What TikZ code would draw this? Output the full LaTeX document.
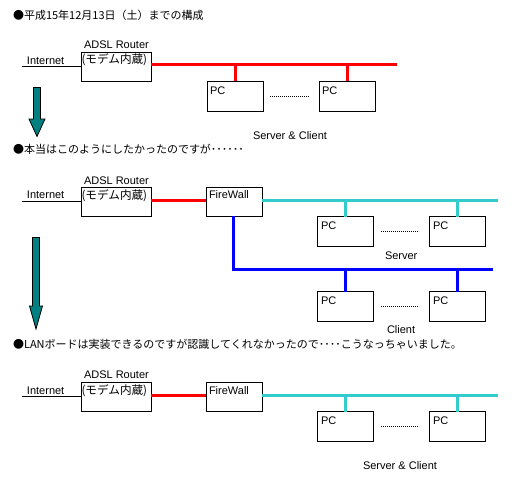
\documentclass[tikz,border=0pt]{standalone}
\usepackage{fontspec}
\setmainfont{Liberation Sans}
\newfontfamily\jp{Noto Sans CJK JP}
\definecolor{netred}{RGB}{255,0,0}
\definecolor{netcyan}{RGB}{51,204,204}
\definecolor{netblue}{RGB}{0,0,255}
\definecolor{arrteal}{RGB}{0,128,128}
\begin{document}
\begin{tikzpicture}[x=1pt,y=-1pt,
  txt/.style={inner sep=0,outer sep=0,anchor=base west,font=\fontsize{11}{13}\selectfont},
  jtxt/.style={inner sep=0,outer sep=0,anchor=west,font=\fontsize{11}{13}\selectfont\jp},
  modem/.style={inner sep=0,outer sep=0,anchor=west,font=\fontsize{11.6}{14}\selectfont\jp},
  devbox/.style={draw,line width=1pt,minimum width=70pt,minimum height=29pt,inner sep=0,outer sep=0},
  pcbox/.style={draw,line width=1pt,minimum width=56pt,minimum height=30pt,inner sep=0,outer sep=0},
  thin/.style={line width=1pt},
  redbus/.style={line width=3pt,draw=netred},
  cyanbus/.style={line width=3pt,draw=netcyan},
  bluebus/.style={line width=3pt,draw=netblue},
  dotline/.style={line width=0.8pt,dash pattern=on 0.8pt off 1.2pt},
  bigarrow/.style={fill=arrteal,draw=black,line width=0.8pt,line join=miter}]
\useasboundingbox (0,0) rectangle (525,479);
\fill[white] (0,0) rectangle (525,479);

% ---------- Section 1 ----------
\node[jtxt] (t1) at (13,15) {●平成15年12月13日（土）までの構成};
\node[devbox] (r1) at (116,66.5) {};
\node[txt] (r1lab) at (84,48.5) {ADSL Router};
\node[modem] (r1in) at (81.5,60) {(モデム内蔵)};
\node[txt] (i1) at (27,64) {Internet};
\coordinate (i1s) at (22,66);
\draw[thin] (i1s) -- (i1s -| r1.west);
\coordinate (b1e) at (397,64);
\draw[redbus] (b1e -| r1.east) -- (b1e);
\node[pcbox] (p1a) at (235,96) {};
\node[pcbox] (p1b) at (347.5,96) {};
\node[txt] (p1at) at (210,94) {PC};
\node[txt] (p1bt) at (322,94) {PC};
\draw[redbus] (p1a.north) -- (p1a.north |- b1e);
\draw[redbus] (p1b.north) -- (p1b.north |- b1e);
\coordinate (d1s) at (270,96);
\coordinate (d1e) at (309,96);
\draw[dotline] (d1s) -- (d1e);
\node[txt] (sc1) at (253,139) {Server \& Client};

% arrow 1
\draw[bigarrow] (33.5,87.5) coordinate (a1) -- (40.5,87.5) -- (40.5,119) -- (45,119) -- (37,136.5) -- (29,119) -- (33.5,119) -- cycle;

% ---------- Section 2 ----------
\node[jtxt] (t2) at (13,149) {●本当はこのようにしたかったのですが･･････};
\node[devbox] (r2) at (116,201.5) {};
\node[txt] (r2lab) at (84,184) {ADSL Router};
\node[modem] (r2in) at (81.5,196) {(モデム内蔵)};
\node[txt] (i2) at (27,198.5) {Internet};
\coordinate (i2s) at (22,201);
\draw[thin] (i2s) -- (i2s -| r2.west);
\node[devbox,minimum width=56pt] (f2) at (234,201.5) {};
\node[txt] (f2t) at (209,198.5) {FireWall};
\coordinate (b2) at (0,200.5);
\draw[redbus] (b2 -| r2.east) -- (b2 -| f2.west);
\coordinate (c2e) at (498,200.5);
\draw[cyanbus] (c2e -| f2.east) -- (c2e);
\node[pcbox] (s2a) at (345.5,231.5) {};
\node[pcbox] (s2b) at (457,231.5) {};
\node[txt] (s2at) at (321,229) {PC};
\node[txt] (s2bt) at (433,229) {PC};
\draw[cyanbus] (s2a.north) -- (s2a.north |- c2e);
\draw[cyanbus] (s2b.north) -- (s2b.north |- c2e);
\draw[dotline] (381,231) coordinate (d2s) -- (419,231) coordinate (d2e);
\node[txt] (sv2) at (385,259) {Server};
\coordinate (bl2e) at (493,269);
\draw[bluebus] (f2.south -| 233.5,0) -- (233.5,269) coordinate (bl2c) -- (bl2e);
\node[pcbox] (c2a) at (345.5,306.5) {};
\node[pcbox] (c2b) at (457,306.5) {};
\node[txt] (c2at) at (321,304) {PC};
\node[txt] (c2bt) at (433,304) {PC};
\draw[bluebus] (c2a.north) -- (c2a.north |- bl2e);
\draw[bluebus] (c2b.north) -- (c2b.north |- bl2e);
\draw[dotline] (381,306) coordinate (d3s) -- (419,306) coordinate (d3e);
\node[txt] (cl2) at (387,333) {Client};

% arrow 2
\draw[bigarrow] (32.5,237.5) coordinate (a2) -- (39.5,237.5) -- (39.5,306) -- (42.5,306) -- (36,329) -- (29.5,306) -- (32.5,306) -- cycle;

% ---------- Section 3 ----------
\node[jtxt] (t3) at (13,344) {●LANボードは実装できるのですが認識してくれなかったので････こうなっちゃいました。};
\node[devbox] (r3) at (116,396.5) {};
\node[txt] (r3lab) at (84,378.5) {ADSL Router};
\node[modem] (r3in) at (81.5,391) {(モデム内蔵)};
\node[txt] (i3) at (27,394) {Internet};
\coordinate (i3s) at (22,396.5);
\draw[thin] (i3s) -- (i3s -| r3.west);
\node[devbox,minimum width=56pt] (f3) at (234,396.5) {};
\node[txt] (f3t) at (209,394) {FireWall};
\coordinate (b3) at (0,395.5);
\draw[redbus] (b3 -| r3.east) -- (b3 -| f3.west);
\coordinate (c3e) at (498,395.5);
\draw[cyanbus] (c3e -| f3.east) -- (c3e);
\node[pcbox] (s3a) at (345.5,426.5) {};
\node[pcbox] (s3b) at (457,426.5) {};
\node[txt] (s3at) at (321,424) {PC};
\node[txt] (s3bt) at (433,424) {PC};
\draw[cyanbus] (s3a.north) -- (s3a.north |- c3e);
\draw[cyanbus] (s3b.north) -- (s3b.north |- c3e);
\draw[dotline] (381,426) coordinate (d4s) -- (419,426) coordinate (d4e);
\node[txt] (sc3) at (363,469) {Server \& Client};
\end{tikzpicture}
\end{document}
